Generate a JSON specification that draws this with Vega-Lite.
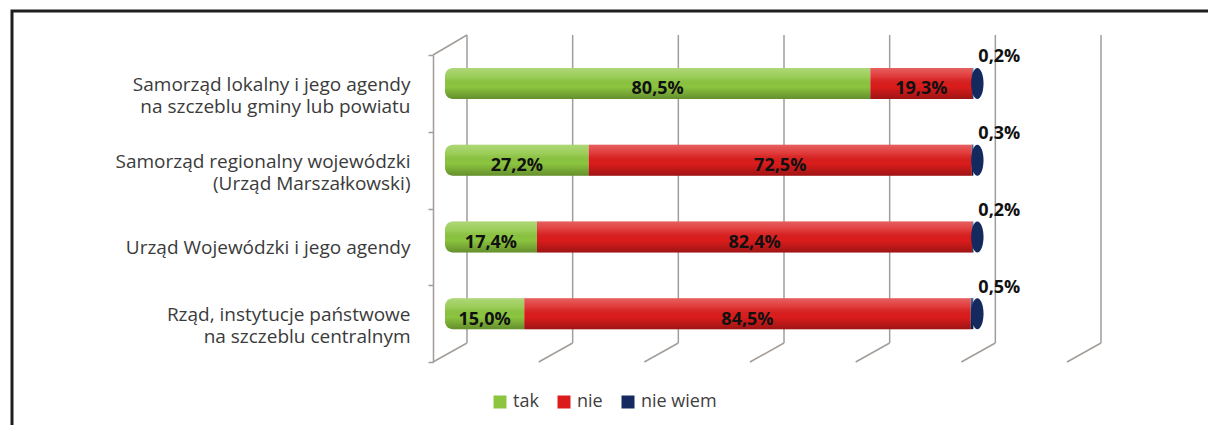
{
  "$schema": "https://vega.github.io/schema/vega-lite/v6.json",
  "width": 1200,
  "height": 420,
  "autosize": {"type": "none"},
  "padding": {"left": 12, "top": 11, "right": 0, "bottom": 0},
  "background": "white",
  "config": {"view": {"stroke": "#1e1e1e", "strokeWidth": 3}, "font": "Open Sans"},
  "datasets": {
    "odpowiedzi": [
      {"kategoria": "Samorząd lokalny i jego agendy\nna szczeblu gminy lub powiatu", "odpowiedz": "tak", "value": 80.5},
      {"kategoria": "Samorząd lokalny i jego agendy\nna szczeblu gminy lub powiatu", "odpowiedz": "nie", "value": 19.3},
      {"kategoria": "Samorząd lokalny i jego agendy\nna szczeblu gminy lub powiatu", "odpowiedz": "nie wiem", "value": 0.2},
      {"kategoria": "Samorząd regionalny wojewódzki\n(Urząd Marszałkowski)", "odpowiedz": "tak", "value": 27.2},
      {"kategoria": "Samorząd regionalny wojewódzki\n(Urząd Marszałkowski)", "odpowiedz": "nie", "value": 72.5},
      {"kategoria": "Samorząd regionalny wojewódzki\n(Urząd Marszałkowski)", "odpowiedz": "nie wiem", "value": 0.3},
      {"kategoria": "Urząd Wojewódzki i jego agendy", "odpowiedz": "tak", "value": 17.4},
      {"kategoria": "Urząd Wojewódzki i jego agendy", "odpowiedz": "nie", "value": 82.4},
      {"kategoria": "Urząd Wojewódzki i jego agendy", "odpowiedz": "nie wiem", "value": 0.2},
      {"kategoria": "Rząd, instytucje państwowe\nna szczeblu centralnym", "odpowiedz": "tak", "value": 15.0},
      {"kategoria": "Rząd, instytucje państwowe\nna szczeblu centralnym", "odpowiedz": "nie", "value": 84.5},
      {"kategoria": "Rząd, instytucje państwowe\nna szczeblu centralnym", "odpowiedz": "nie wiem", "value": 0.5}
    ],
    "siatka": [{"v": 0}, {"v": 20}, {"v": 40}, {"v": 60}, {"v": 80}, {"v": 100}, {"v": 120}]
  },
  "resolve": {"scale": {"y": "independent"}, "axis": {"y": "independent"}},
  "layer": [
    {
      "data": {"name": "siatka"},
      "encoding": {
        "x": {"field": "v", "type": "quantitative", "scale": {"domain": [0, 120], "range": [433, 1067], "nice": false, "zero": false}, "axis": null}
      },
      "layer": [
        {
          "mark": {"type": "rule", "color": "#a39d99", "strokeWidth": 1.5, "xOffset": 22, "yOffset": -20, "y2Offset": -19},
          "encoding": {
            "y": {"datum": 1, "type": "quantitative", "scale": {"domain": [0, 1], "range": [351, 44]}, "axis": null},
            "y2": {"datum": 0}
          }
        },
        {
          "mark": {"type": "rule", "color": "#a39d99", "strokeWidth": 1.5, "xOffset": 22, "x2Offset": -12, "yOffset": -19},
          "encoding": {
            "x2": {"field": "v"},
            "y": {"datum": 0, "type": "quantitative", "scale": {"domain": [0, 1], "range": [351, 44]}, "axis": null},
            "y2": {"datum": 0}
          }
        },
        {
          "transform": [{"filter": "datum.v == 0"}],
          "mark": {"type": "rule", "color": "#a39d99", "strokeWidth": 1.5, "xOffset": -12, "x2Offset": 22, "y2Offset": -20},
          "encoding": {
            "x2": {"field": "v"},
            "y": {"datum": 1, "type": "quantitative", "scale": {"domain": [0, 1], "range": [351, 44]}, "axis": null},
            "y2": {"datum": 1}
          }
        }
      ]
    },
    {
      "data": {"name": "odpowiedzi"},
      "transform": [
        {"window": [{"op": "row_number", "as": "kol"}], "groupby": ["kategoria"]},
        {"stack": "value", "groupby": ["kategoria"], "sort": [{"field": "kol", "order": "ascending"}], "as": ["x0", "x1"]},
        {"calculate": "(datum.x0 + datum.x1) / 2", "as": "xm"},
        {"calculate": "replace(format(datum.value, '.1f'), '.', ',') + '%'", "as": "etykieta"}
      ],
      "encoding": {
        "y": {
          "field": "kategoria", "type": "nominal", "sort": null,
          "scale": {"range": [44, 351], "paddingInner": 0, "paddingOuter": 0},
          "axis": {
            "title": null, "orient": "left", "offset": -421,
            "domainColor": "#a39d99", "domainWidth": 1.5,
            "tickColor": "#a39d99", "tickWidth": 1.5, "tickSize": 5, "tickBand": "extent",
            "labelAlign": "right", "labelPadding": 18,
            "labelOffset": {"condition": {"test": "datum.value === 'Urząd Wojewódzki i jego agendy'", "value": 1}, "value": -9},
            "labelFont": "Open Sans", "labelFontSize": 19, "labelColor": "#3b3b3b",
            "labelLimit": 0, "labelLineHeight": 22, "labelExpr": "split(datum.label, '\\n')"
          }
        }
      },
      "layer": [
        {
          "mark": {"type": "bar", "height": 31, "yOffset": -10, "y2Offset": -10, "cornerRadiusTopLeft": {"expr": "datum.kol == 1 ? 8 : 0"}, "cornerRadiusBottomLeft": {"expr": "datum.kol == 1 ? 8 : 0"}},
          "encoding": {
            "x": {"field": "x0", "type": "quantitative", "scale": {"domain": [0, 120], "range": [433, 1067], "nice": false, "zero": false}, "axis": null},
            "x2": {"field": "x1"},
            "color": {
              "field": "odpowiedz", "type": "nominal",
              "scale": {"domain": ["tak", "nie", "nie wiem"], "range": ["#8cc63f", "#dc1c1c", "#14295e"]},
              "legend": {
                "title": null, "orient": "none", "legendX": 479, "legendY": 382, "direction": "horizontal",
                "symbolType": "square", "symbolSize": 169, "symbolStrokeWidth": 0,
                "labelFont": "Open Sans", "labelFontSize": 18, "labelColor": "#404040",
                "labelOffset": 4, "columnPadding": 16, "padding": 0
              }
            }
          }
        },
        {
          "mark": {
            "type": "bar", "height": 31, "yOffset": -10, "y2Offset": -10,
            "cornerRadiusTopLeft": {"expr": "datum.kol == 1 ? 8 : 0"}, "cornerRadiusBottomLeft": {"expr": "datum.kol == 1 ? 8 : 0"},
            "fill": {"gradient": "linear", "x1": 0, "y1": 0, "x2": 0, "y2": 1, "stops": [
              {"offset": 0, "color": "rgba(255,255,255,0.30)"},
              {"offset": 0.3, "color": "rgba(255,255,255,0.12)"},
              {"offset": 0.6, "color": "rgba(0,0,0,0)"},
              {"offset": 1, "color": "rgba(0,0,0,0.28)"}
            ]}
          },
          "encoding": {
            "x": {"field": "x0", "type": "quantitative"},
            "x2": {"field": "x1"}
          }
        },
        {
          "transform": [{"filter": "datum.odpowiedz == 'nie wiem'"}],
          "mark": {"type": "point", "shape": "M0,-1A0.4,1 0 1,1 0,1A0.4,1 0 1,1 0,-1Z", "size": 961, "filled": true, "color": "#14295e", "opacity": 1, "xOffset": 4, "yOffset": -10},
          "encoding": {"x": {"field": "x1", "type": "quantitative"}}
        },
        {
          "transform": [{"filter": "datum.odpowiedz != 'nie wiem'"}],
          "mark": {"type": "text", "font": "Open Sans", "fontWeight": "bold", "fontSize": 18, "color": "#111111", "yOffset": -4},
          "encoding": {
            "x": {"field": "xm", "type": "quantitative"},
            "text": {"field": "etykieta", "type": "nominal"}
          }
        },
        {
          "transform": [{"filter": "datum.odpowiedz == 'nie wiem'"}],
          "mark": {"type": "text", "font": "Open Sans", "fontWeight": "bold", "fontSize": 18, "color": "#111111", "dx": 26, "yOffset": -36},
          "encoding": {
            "x": {"field": "x1", "type": "quantitative"},
            "text": {"field": "etykieta", "type": "nominal"}
          }
        }
      ]
    }
  ]
}
